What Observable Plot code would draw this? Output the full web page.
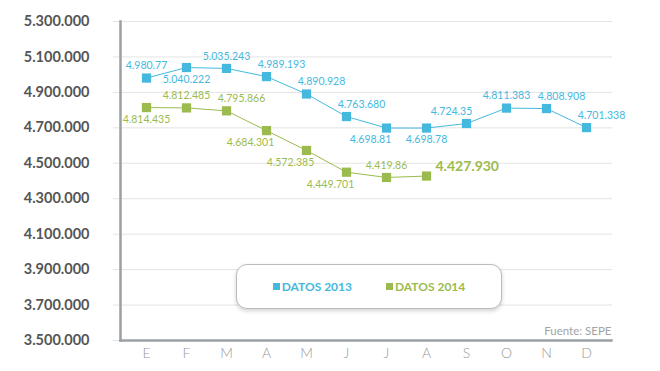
<!DOCTYPE html>
<html>
<head>
<meta charset="utf-8">
<script src="https://cdn.jsdelivr.net/npm/d3@7"></script>
<script src="https://cdn.jsdelivr.net/npm/@observablehq/plot@0.6"></script>
<style>
  html, body { margin: 0; padding: 0; background: #fff; }
  #wrap { position: relative; width: 660px; height: 371px; font-family: Lato, "Open Sans", sans-serif; }
  #legend {
    position: absolute; left: 236px; top: 264px; width: 264px; height: 43px;
    border: 1px solid #b9bcbf; border-radius: 11px; background: #fff;
    box-shadow: 0 2px 4px rgba(0,0,0,0.18);
    display: flex; align-items: center; justify-content: center; gap: 34px;
    font-family: Lato, sans-serif; font-weight: bold; font-size: 12px;
  }
  .item { display: flex; align-items: center; gap: 2px; }
  .sw { display: inline-block; width: 7px; height: 7px; }
</style>
</head>
<body>
<div id="wrap"><div id="chart"></div><div id="legend"></div></div>
<script>
const months = ["E","F","M","A","M","J","J","A","S","O","N","D"];
const series = ["DATOS 2013", "DATOS 2014"];
const colors = ["#45b8de", "#9bbb4e"];
const values2013 = [4980770, 5040222, 5035243, 4989193, 4890928, 4763680, 4698810, 4698780, 4724350, 4811383, 4808908, 4701338];
const labels2013 = ["4.980.77","5.040.222","5.035.243","4.989.193","4.890.928","4.763.680","4.698.81","4.698.78","4.724.35","4.811.383","4.808.908","4.701.338"];
const place2013 = ["above","below","above","above-right","above-right","above-right","below-left","below","above-left","above","above-right","above-right"];
const values2014 = [4814435, 4812485, 4795866, 4684301, 4572385, 4449701, 4419860, 4427930];
const labels2014 = ["4.814.435","4.812.485","4.795.866","4.684.301","4.572.385","4.449.701","4.419.86","4.427.930"];
const place2014 = ["below","above","above-right","below-left","below-left","below-left","above","right-big"];
const yTicks = [3500000, 3700000, 3900000, 4100000, 4300000, 4500000, 4700000, 4900000, 5100000, 5300000];
const source = "Fuente: SEPE";

const rows = [];
values2013.forEach((v, i) => rows.push({i, v, s: series[0], label: labels2013[i], place: place2013[i]}));
values2014.forEach((v, i) => rows.push({i, v, s: series[1], label: labels2014[i], place: place2014[i]}));

const fmt = d => d3.format(",")(d).replace(/,/g, ".");
const colorOf = s => colors[series.indexOf(s)];

const byPlace = p => rows.filter(r => r.place === p);
const textCommon = {x: "i", y: "v", text: "label", fill: d => colorOf(d.s), fontSize: 10.5, fontWeight: 400, fontFamily: "Lato, sans-serif"};

const chart = Plot.plot({
  width: 660,
  height: 371,
  marginLeft: 120,
  marginRight: 49,
  marginTop: 21,
  marginBottom: 31,
  style: {fontFamily: "Lato, sans-serif", background: "#fff"},
  x: {type: "point", domain: d3.range(12), padding: 0.5, label: null},
  y: {domain: [3500000, 5300000], label: null},
  marks: [
    Plot.gridY(yTicks, {stroke: "#e4e4e4", strokeOpacity: 1, insetLeft: -7, insetRight: -1}),
    Plot.axisY(yTicks, {tickSize: 0, tickPadding: 31, tickFormat: fmt, fontSize: 14.5, fontWeight: "bold", fill: "#555", label: null, style: {letterSpacing: "0.4px"}}),
    Plot.axisX(d3.range(12), {tickSize: 0, tickPadding: 8, tickFormat: i => months[i], fontSize: 14, fontWeight: 300, fill: "#999", label: null}),
    Plot.frame({anchor: "left", stroke: "#9aa0a4", strokeWidth: 2.5}),
    Plot.frame({anchor: "bottom", stroke: "#9aa0a4", strokeWidth: 2.5}),
    Plot.line(rows, {x: "i", y: "v", z: "s", stroke: d => colorOf(d.s), strokeWidth: 1}),
    Plot.dot(rows, {x: "i", y: "v", symbol: "square", r: 5.2, fill: d => colorOf(d.s), stroke: "none"}),
    Plot.text(byPlace("above"), {...textCommon, dy: -12}),
    Plot.text(byPlace("below"), {...textCommon, dy: 12}),
    Plot.text(byPlace("above-right"), {...textCommon, dy: -12, dx: 15}),
    Plot.text(byPlace("above-left"), {...textCommon, dy: -12, dx: -15}),
    Plot.text(byPlace("below-left"), {...textCommon, dy: 12, dx: -16}),
    Plot.text(byPlace("right-big"), {...textCommon, dy: -10, dx: 9, textAnchor: "start", fontSize: 14, fontWeight: "bold"}),
    Plot.text([source], {frameAnchor: "bottom-right", dy: -6, fontSize: 11.5, fontWeight: 400, fill: "#a3a3a3", textAnchor: "end"})
  ]
});
document.getElementById("chart").appendChild(chart);

const legend = document.getElementById("legend");
series.forEach((s, k) => {
  const it = document.createElement("div");
  it.className = "item";
  it.style.color = colors[k];
  const sw = document.createElement("span");
  sw.className = "sw";
  sw.style.background = colors[k];
  it.appendChild(sw);
  it.appendChild(document.createTextNode(s));
  legend.appendChild(it);
});
</script>
</body>
</html>
